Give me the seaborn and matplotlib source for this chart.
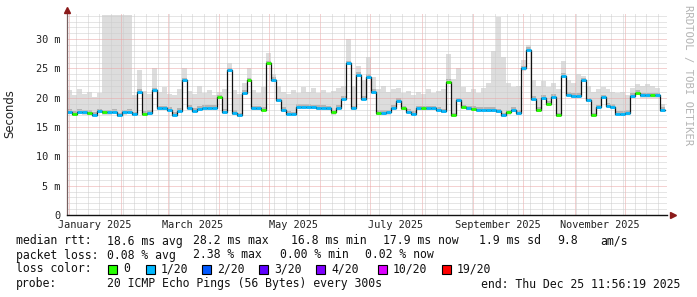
import numpy as np
import pandas as pd
import matplotlib
matplotlib.use("Agg")
import matplotlib.pyplot as plt
import matplotlib.dates as mdates
import matplotlib.transforms as mtransforms
from matplotlib.ticker import MultipleLocator, FixedLocator
from matplotlib.patches import Rectangle
import seaborn as sns

# ---------------- data ----------------
BIN_START = "2024-12-30 12:00"
BIN_DAYS = 3

median_ms = [
    17.6, 17.3, 17.6, 17.5, 17.4, 17.1, 17.7, 17.5, 17.5, 17.6,
    17.0, 17.5, 17.6, 17.2, 21.0, 17.3, 17.4, 21.3, 18.2, 18.2,
    18.0, 17.1, 17.8, 23.0, 18.3, 17.8, 18.1, 18.3, 18.3, 18.3,
    20.1, 17.6, 24.7, 17.4, 17.0, 20.8, 23.0, 18.2, 18.2, 18.0,
    25.9, 23.1, 19.6, 17.9, 17.3, 17.2, 18.5, 18.5, 18.5, 18.4,
    18.3, 18.3, 18.2, 17.5, 18.3, 19.8, 25.9, 18.2, 23.9, 19.8,
    23.6, 21.0, 17.4, 17.4, 17.5, 18.3, 19.5, 18.2, 17.6, 17.3,
    18.2, 18.2, 18.2, 18.2, 18.0, 17.7, 22.7, 17.0, 19.6, 18.4,
    18.2, 18.1, 18.0, 18.0, 17.9, 17.9, 17.7, 17.0, 17.5, 17.9,
    17.4, 25.0, 28.2, 19.8, 17.9, 20.0, 19.0, 20.2, 17.0, 23.8,
    20.5, 20.3, 20.3, 23.0, 19.6, 17.0, 18.4, 20.1, 18.6, 18.5,
    17.3, 17.3, 17.4, 20.3, 20.9, 20.4, 20.4, 20.4, 20.4, 17.9,
]

smoke_top_ms = [
    21.3, 20.4, 21.5, 20.6, 21.0, 20.2, 20.8, 34.2, 34.2, 34.2,
    34.2, 34.2, 34.2, 20.5, 24.8, 21.2, 20.6, 25.0, 21.0, 21.8,
    20.7, 20.4, 21.5, 25.0, 21.2, 20.7, 22.0, 20.8, 21.3, 20.5,
    21.0, 21.5, 26.0, 21.4, 20.6, 22.5, 25.0, 21.4, 20.8, 21.8,
    27.6, 24.0, 22.0, 21.0, 20.6, 21.3, 20.8, 21.8, 21.0, 21.6,
    20.8, 21.4, 20.9, 21.2, 21.6, 22.0, 30.0, 22.0, 25.4, 23.0,
    27.0, 23.5, 21.5, 22.0, 21.0, 21.5, 21.7, 20.8, 21.2, 20.5,
    21.0, 20.7, 21.5, 20.8, 21.2, 21.5, 27.4, 23.2, 25.0, 21.8,
    21.0, 21.5, 20.8, 21.6, 22.5, 28.0, 33.8, 27.0, 22.5, 21.8,
    22.0, 26.5, 29.0, 23.0, 22.0, 22.8, 21.8, 22.5, 21.5, 26.3,
    23.0, 22.5, 24.0, 23.8, 22.0, 21.0, 21.5, 21.8, 21.5, 21.0,
    20.8, 21.0, 20.5, 21.6, 22.3, 22.0, 22.4, 22.0, 21.6, 19.0,
]

# loss class index per bin (0 -> "0", 1 -> "1/20")
loss_idx = [
    1, 0, 1, 1, 0, 1, 1, 0, 1, 1,
    1, 1, 1, 1, 1, 0, 1, 1, 1, 1,
    1, 1, 1, 1, 1, 1, 1, 1, 1, 1,
    0, 1, 1, 1, 1, 1, 0, 1, 1, 0,
    0, 1, 1, 1, 1, 1, 1, 1, 1, 1,
    1, 1, 1, 0, 1, 1, 1, 1, 1, 1,
    1, 1, 0, 1, 1, 1, 1, 0, 1, 1,
    1, 0, 1, 1, 1, 1, 0, 0, 1, 0,
    1, 0, 1, 1, 1, 1, 1, 1, 0, 1,
    1, 1, 1, 1, 0, 1, 0, 1, 0, 1,
    1, 1, 1, 1, 1, 0, 1, 1, 1, 1,
    1, 1, 1, 1, 0, 1, 1, 0, 1, 1,
]

loss_labels = ["0", "1/20", "2/20", "3/20", "4/20", "10/20", "19/20"]
loss_colors = ["#26ff00", "#00b8ff", "#0059ff", "#5e00ff", "#7e00ff", "#dd00ff", "#ff0000"]

y_ticks = [0, 5, 10, 15, 20, 25, 30]
y_tick_labels = ["0", "5 m", "10 m", "15 m", "20 m", "25 m", "30 m"]
x_label_texts = ["January 2025", "March 2025", "May 2025", "July 2025",
                 "September 2025", "November 2025"]
x_label_dates = ["2025-01-16", "2025-03-16", "2025-05-16", "2025-07-16",
                 "2025-09-16", "2025-11-16"]
x_range = ("2024-12-30 12:00", "2025-12-26 12:00")
y_max = 34.3

rtt_items = ["median rtt:", "18.6 ms avg", "28.2 ms max", "16.8 ms min",
             "17.9 ms now", "1.9 ms sd", "9.8", "am/s"]
pl_items = ["packet loss:", "0.08 % avg", "2.38 % max", "0.00 % min", "0.02 % now"]
loss_head = "loss color:"
probe_head = "probe:"
probe_text = "20 ICMP Echo Pings (56 Bytes) every 300s"
end_text = "end: Thu Dec 25 11:56:19 2025"
y_title = "Seconds"
watermark = "RRDTOOL / TOBI OETIKER"

# ---------------- layout ----------------
W, H = 697, 297
sns.set_theme(style="white")
plt.rcParams["font.family"] = ["DejaVu Sans"]
MONO = "DejaVu Sans Mono"

fig = plt.figure(figsize=(W / 100, H / 100), dpi=100, facecolor="white")


def fx(x):
    return x / W


def fy(y):
    return 1 - y / H


AX_L, AX_R, AX_T, AX_B = 67, 667, 14, 215
ax = fig.add_axes([fx(AX_L), fy(AX_B), (AX_R - AX_L) / W, (AX_B - AX_T) / H])
ax.set_facecolor("white")

n = len(median_ms)
edges = pd.date_range(BIN_START, periods=n + 1, freq=f"{BIN_DAYS}D")
df = pd.DataFrame({
    "t": edges,
    "median": median_ms + [median_ms[-1]],
    "top": smoke_top_ms + [smoke_top_ms[-1]],
})
med = df["median"].to_numpy()
top = df["top"].to_numpy()

# smoke
ax.fill_between(df["t"], med - 0.35, top, step="post", color="#dddddd",
                lw=0, zorder=1)
ax.fill_between(df["t"], med - 0.25, med + 0.45, step="post", color="#b4b4b4",
                lw=0, zorder=1.2)

# median line (black step) + loss-coloured segments
sns.lineplot(data=df, x="t", y="median", drawstyle="steps-post", color="#111111",
             lw=0.9, estimator=None, ax=ax, zorder=3)
seg_cols = [loss_colors[i] for i in loss_idx]
ax.hlines(median_ms, edges[:-1], edges[1:], colors=seg_cols, lw=2.0, zorder=4)

# axes ranges
ax.set_xlim(pd.Timestamp(x_range[0]), pd.Timestamp(x_range[1]))
ax.set_ylim(0, y_max)
ax.set_xlabel("")
ax.set_ylabel("")

# grid
ax.yaxis.set_major_locator(FixedLocator(y_ticks))
ax.yaxis.set_minor_locator(MultipleLocator(1))
ax.set_yticklabels(y_tick_labels, fontfamily=MONO, fontsize=7.4, color="#222222")
ax.xaxis.set_major_locator(mdates.MonthLocator())
ax.xaxis.set_minor_locator(mdates.WeekdayLocator(byweekday=mdates.SU))
ax.xaxis.set_major_formatter(plt.NullFormatter())
ax.set_axisbelow(False)
dot = (0, (1, 1))
ax.grid(which="minor", color="#cdcdcd", lw=0.72, ls=dot)
ax.grid(which="major", color="#eaa4a4", lw=0.72, ls=dot)
for axis in (ax.xaxis, ax.yaxis):
    for tk in axis.get_major_ticks() + axis.get_minor_ticks():
        tk.gridline.set_zorder(2)

ax.tick_params(axis="both", which="major", direction="out", length=2.5, width=0.7,
               color="#555555", pad=2.0)
ax.tick_params(axis="both", which="minor", direction="out", length=1.4, width=0.6,
               color="#999999")

for s in ["top", "right"]:
    ax.spines[s].set_visible(False)
ax.spines["left"].set_color("#7a6060")
ax.spines["left"].set_linewidth(0.9)
ax.spines["bottom"].set_color("#111111")
ax.spines["bottom"].set_linewidth(1.0)
ax.spines["left"].set_zorder(5)
ax.spines["bottom"].set_zorder(5)

# axis arrows
up = mtransforms.offset_copy(ax.transAxes, fig=fig, x=0, y=4, units="dots")
ax.plot([0], [1], transform=up, marker="^", ms=5, color="#8b1a1a",
        mec="#8b1a1a", clip_on=False, zorder=6)
right = mtransforms.offset_copy(ax.transAxes, fig=fig, x=6, y=0, units="dots")
ax.plot([1], [0], transform=right, marker=">", ms=5, color="#8b1a1a",
        mec="#8b1a1a", clip_on=False, zorder=6)

# month labels
lab_tr = mtransforms.blended_transform_factory(ax.transData, ax.transAxes)
for txt, d in zip(x_label_texts, x_label_dates):
    ax.text(mdates.date2num(pd.Timestamp(d)), -10 / (AX_B - AX_T), txt,
            transform=lab_tr, ha="center", va="center", fontfamily=MONO,
            fontsize=7.4, color="#222222")

# y title and watermark
fig.text(fx(10), fy(114), y_title, rotation=90, ha="center", va="center",
         fontsize=8.4, color="#222222")
fig.text(fx(688), fy(5), watermark, rotation=270, ha="center", va="top",
         fontfamily=MONO, fontsize=7.6, color="#b4b4b4")

# legend
LFS = 8.3
rtt_x = [16, 107, 193, 291, 383, 479, 557, 600]
for t, x in zip(rtt_items, rtt_x):
    fig.text(fx(x), fy(241), t, ha="left", va="center", fontfamily=MONO,
             fontsize=LFS, color="#111111")
pl_x = [16, 107, 193, 280, 365]
for t, x in zip(pl_items, pl_x):
    fig.text(fx(x), fy(255), t, ha="left", va="center", fontfamily=MONO,
             fontsize=LFS, color="#111111")
fig.text(fx(16), fy(269), loss_head, ha="left", va="center", fontfamily=MONO,
         fontsize=LFS, color="#111111")
box_x = [108, 146, 202, 259, 316, 378, 442]
for lab, col, x in zip(loss_labels, loss_colors, box_x):
    fig.patches.append(Rectangle((fx(x), fy(274)), 9 / W, 9 / H,
                                 transform=fig.transFigure, facecolor=col,
                                 edgecolor="black", lw=0.8))
    fig.text(fx(x + 15), fy(269), lab, ha="left", va="center", fontfamily=MONO,
             fontsize=LFS, color="#111111")
fig.text(fx(16), fy(284), probe_head, ha="left", va="center", fontfamily=MONO,
         fontsize=LFS, color="#111111")
fig.text(fx(107), fy(284), probe_text, ha="left", va="center", fontfamily=MONO,
         fontsize=LFS, color="#111111")
fig.text(fx(680), fy(284), end_text, ha="right", va="center", fontfamily=MONO,
         fontsize=LFS, color="#111111")

fig.savefig("out.png", dpi=100, facecolor="white")
